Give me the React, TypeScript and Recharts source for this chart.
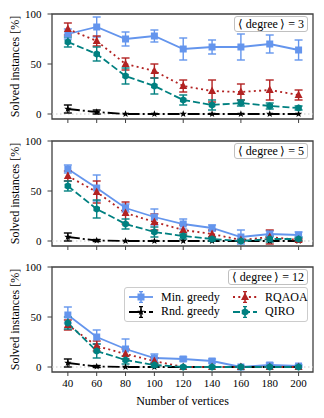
import React from "react";
import {
  LineChart,
  Line,
  XAxis,
  YAxis,
  ErrorBar,
  ReferenceLine,
  ReferenceArea,
} from "recharts";

const vertices = [40, 60, 80, 100, 120, 140, 160, 180, 200];
const yTicks = [0, 50, 100];

// <degree> = 3
const minGreedy3 = [80, 87, 75, 78, 65, 67, 67, 70, 64];
const minGreedy3Err = [5, 10, 7, 6, 11, 7, 13, 9, 10];
const rndGreedy3 = [5, 2, 0, 0, 0, 0, 0, 0, 0];
const rndGreedy3Err = [4, 2, 0, 0, 0, 0, 0, 0, 0];
const rqaoa3 = [85, 73, 50, 43, 28, 23, 22, 24, 19];
const rqaoa3Err = [6, 5, 6, 7, 6, 11, 8, 10, 5];
const qiro3 = [72, 60, 38, 28, 14, 9, 11, 8, 6];
const qiro3Err = [5, 7, 8, 8, 5, 5, 3, 3, 2];

// <degree> = 5
const minGreedy5 = [72, 53, 33, 24, 17, 13, 4, 7, 6];
const minGreedy5Err = [4, 13, 4, 8, 5, 3, 7, 3, 3];
const rndGreedy5 = [4, 0.5, 0, 0, 0, 0, 0, 0, 0];
const rndGreedy5Err = [4, 1, 0, 0, 0, 0, 0, 0, 0];
const rqaoa5 = [65, 49, 28, 19, 11, 7, 1, 4, 1];
const rqaoa5Err = [5, 11, 11, 8, 5, 4, 1, 7, 1];
const qiro5 = [55, 32, 17, 9, 5, 2, 0, 2, 2];
const qiro5Err = [5, 9, 5, 5, 3, 2, 0, 3, 2];

// <degree> = 12
const minGreedy12 = [52, 30, 18, 9, 8, 6, 0, 2, 1];
const minGreedy12Err = [8, 7, 10, 4, 2, 2, 0, 2, 1];
const rndGreedy12 = [4, 0.5, 0, 0, 0, 0, 0, 0, 0];
const rndGreedy12Err = [4, 1, 0, 0, 0, 0, 0, 0, 0];
const rqaoa12 = [42, 21, 13, 6, 0, 0, 0, 0, 0];
const rqaoa12Err = [5, 5, 5, 3, 0, 0, 0, 0, 0];
const qiro12 = [44, 16, 7, 2, 0, 0, 0, 0, 0];
const qiro12Err = [6, 7, 4, 2, 0, 0, 0, 0, 0];

const BLUE = "#6495ED";
const RED = "#B22222";
const TEAL = "#008080";
const BLACK = "#000000";
const AXIS = "#404040";
const FONT = "Liberation Serif, serif";

function buildRows(
  minG: number[], minGErr: number[],
  rnd: number[], rndErr: number[],
  rq: number[], rqErr: number[],
  qi: number[], qiErr: number[],
) {
  return vertices.map((n, i) => ({
    n,
    minG: minG[i], minGErr: minGErr[i],
    rnd: rnd[i], rndErr: rndErr[i],
    rq: rq[i], rqErr: rqErr[i],
    qi: qi[i], qiErr: qiErr[i],
  }));
}

const panels = [
  { degree: 3, top: 0, rows: buildRows(minGreedy3, minGreedy3Err, rndGreedy3, rndGreedy3Err, rqaoa3, rqaoa3Err, qiro3, qiro3Err) },
  { degree: 5, top: 127, rows: buildRows(minGreedy5, minGreedy5Err, rndGreedy5, rndGreedy5Err, rqaoa5, rqaoa5Err, qiro5, qiro5Err) },
  { degree: 12, top: 253, rows: buildRows(minGreedy12, minGreedy12Err, rndGreedy12, rndGreedy12Err, rqaoa12, rqaoa12Err, qiro12, qiro12Err) },
];

// marker shapes
function SquareMark({ cx, cy }: { cx: number; cy: number }) {
  return <rect x={cx - 3.5} y={cy - 3.5} width={7} height={7} fill={BLUE} />;
}
function TriMark({ cx, cy }: { cx: number; cy: number }) {
  return (
    <polygon
      points={`${cx},${cy - 4.5} ${cx - 4},${cy + 3} ${cx + 4},${cy + 3}`}
      fill={RED}
    />
  );
}
function HexMark({ cx, cy }: { cx: number; cy: number }) {
  const pts = [0, 1, 2, 3, 4, 5]
    .map((k) => {
      const a = (Math.PI / 3) * k - Math.PI / 2;
      return `${cx + 3.8 * Math.cos(a)},${cy + 3.8 * Math.sin(a)}`;
    })
    .join(" ");
  return <polygon points={pts} fill={TEAL} />;
}
function StarMark({ cx, cy }: { cx: number; cy: number }) {
  const pts = Array.from({ length: 10 })
    .map((_, k) => {
      const r = k % 2 === 0 ? 3.8 : 1.6;
      const a = (Math.PI / 5) * k - Math.PI / 2;
      return `${cx + r * Math.cos(a)},${cy + r * Math.sin(a)}`;
    })
    .join(" ");
  return <polygon points={pts} fill={BLACK} />;
}

const dotOf = (Mark: React.FC<{ cx: number; cy: number }>) => (p: any) =>
  <Mark key={`d-${p.index}`} cx={p.cx} cy={p.cy} />;

const series = [
  { key: "minG", name: "Min. greedy", color: BLUE, dash: undefined, Mark: SquareMark },
  { key: "rnd", name: "Rnd. greedy", color: BLACK, dash: "12 3 2 3", Mark: StarMark },
  { key: "rq", name: "RQAOA", color: RED, dash: "2 3.3", Mark: TriMark },
  { key: "qi", name: "QIRO", color: TEAL, dash: "7 3", Mark: HexMark },
];

function YLabel({ viewBox }: any) {
  const cx = 15;
  const cy = viewBox.y + viewBox.height / 2;
  return (
    <text
      x={cx}
      y={cy}
      transform={`rotate(-90, ${cx}, ${cy})`}
      textAnchor="middle"
      dominantBaseline="central"
      fontSize={12}
      fontFamily={FONT}
      fill="#000"
    >
      Solved instances [%]
    </text>
  );
}

function XLabel({ viewBox }: any) {
  return (
    <text
      x={viewBox.x + viewBox.width / 2}
      y={viewBox.y + 29}
      textAnchor="middle"
      dominantBaseline="central"
      fontSize={12}
      fontFamily={FONT}
      fill="#000"
    >
      Number of vertices
    </text>
  );
}

function LegendIcon({ color, dash, Mark }: any) {
  return (
    <svg width={26} height={12} style={{ display: "block" }}>
      <line x1={1} y1={6} x2={25} y2={6} stroke={color} strokeWidth={1.8} strokeDasharray={dash} />
      <line x1={13} y1={0.5} x2={13} y2={11.5} stroke={color} strokeWidth={1.5} />
      <line x1={11} y1={0.5} x2={15} y2={0.5} stroke={color} strokeWidth={1.5} />
      <line x1={11} y1={11.5} x2={15} y2={11.5} stroke={color} strokeWidth={1.5} />
      <Mark cx={13} cy={6} />
    </svg>
  );
}

function LegendBox() {
  const order = [series[0], series[2], series[1], series[3]];
  return (
    <div
      style={{
        position: "absolute",
        left: 124,
        top: 34,
        width: 184,
        height: 35,
        boxSizing: "border-box",
        border: "1px solid #cccccc",
        borderRadius: 3,
        background: "rgba(255,255,255,0.85)",
        display: "grid",
        gridTemplateColumns: "104px 76px",
        alignItems: "center",
        padding: "2px 0 2px 3px",
        fontFamily: FONT,
        fontSize: 12,
      }}
    >
      {order.map((s) => (
        <div key={s.key} style={{ display: "flex", alignItems: "center", gap: 7, height: 14 }}>
          <LegendIcon color={s.color} dash={s.dash} Mark={s.Mark} />
          <span style={{ whiteSpace: "nowrap" }}>{s.name}</span>
        </div>
      ))}
    </div>
  );
}

function Panel({ degree, top, rows, last }: any) {
  const height = last ? 159 : 125;
  return (
    <div style={{ position: "absolute", left: 0, top, width: 324, height }}>
      <LineChart
        width={324}
        height={height}
        data={rows}
        margin={{ top: 14, right: 11, bottom: 0, left: 0 }}
      >
        <XAxis
          dataKey="n"
          type="number"
          domain={[29, 210]}
          ticks={vertices}
          allowDataOverflow
          height={last ? 40 : 6}
          axisLine={false}
          tickSize={4}
          tickMargin={3}
          tickLine={{ stroke: AXIS, strokeWidth: 1 }}
          tick={last ? { fill: "#000", fontSize: 11, fontFamily: FONT } : () => <g />}
          label={last ? <XLabel /> : undefined}
        />
        <YAxis
          type="number"
          domain={[-5, 100]}
          ticks={yTicks}
          allowDataOverflow
          width={52}
          axisLine={false}
          tickSize={4.5}
          tickMargin={6}
          tickLine={{ stroke: AXIS, strokeWidth: 1 }}
          tick={{ fill: "#000", fontSize: 11, fontFamily: FONT }}
          label={<YLabel />}
        />
        <ReferenceLine y={0} stroke="#c8c8c8" strokeWidth={1.2} strokeDasharray="1.5 2.5" />
        {series.map((s) => (
          <Line
            key={s.key}
            dataKey={s.key}
            stroke={s.color}
            strokeWidth={1.8}
            strokeDasharray={s.dash}
            dot={dotOf(s.Mark)}
            activeDot={false}
            isAnimationActive={false}
          >
            <ErrorBar
              dataKey={`${s.key}Err`}
              direction="y"
              width={4}
              stroke={s.color}
              strokeWidth={1.4}
            />
          </Line>
        ))}
        <ReferenceArea
          x1={29}
          x2={210}
          y1={-5}
          y2={100}
          fill="none"
          stroke={AXIS}
          strokeWidth={1.3}
          ifOverflow="visible"
        />
      </LineChart>
      <div
        style={{
          position: "absolute",
          right: 16,
          top: 16,
          padding: "0px 3px",
          border: "1px solid #c0c0c0",
          borderRadius: 3,
          background: "rgba(255,255,255,0.85)",
          fontFamily: FONT,
          fontSize: 12,
          lineHeight: "14px",
          whiteSpace: "nowrap",
        }}
      >
        {"\u27E8\u2009degree\u2009\u27E9 = "}
        {degree}
      </div>
      {last && <LegendBox />}
    </div>
  );
}

export default function App() {
  return (
    <div
      style={{
        position: "absolute",
        left: 0,
        top: 0,
        width: 324,
        height: 418,
        background: "#fff",
      }}
    >
      {panels.map((p, i) => (
        <Panel key={p.degree} {...p} last={i === panels.length - 1} />
      ))}
    </div>
  );
}
